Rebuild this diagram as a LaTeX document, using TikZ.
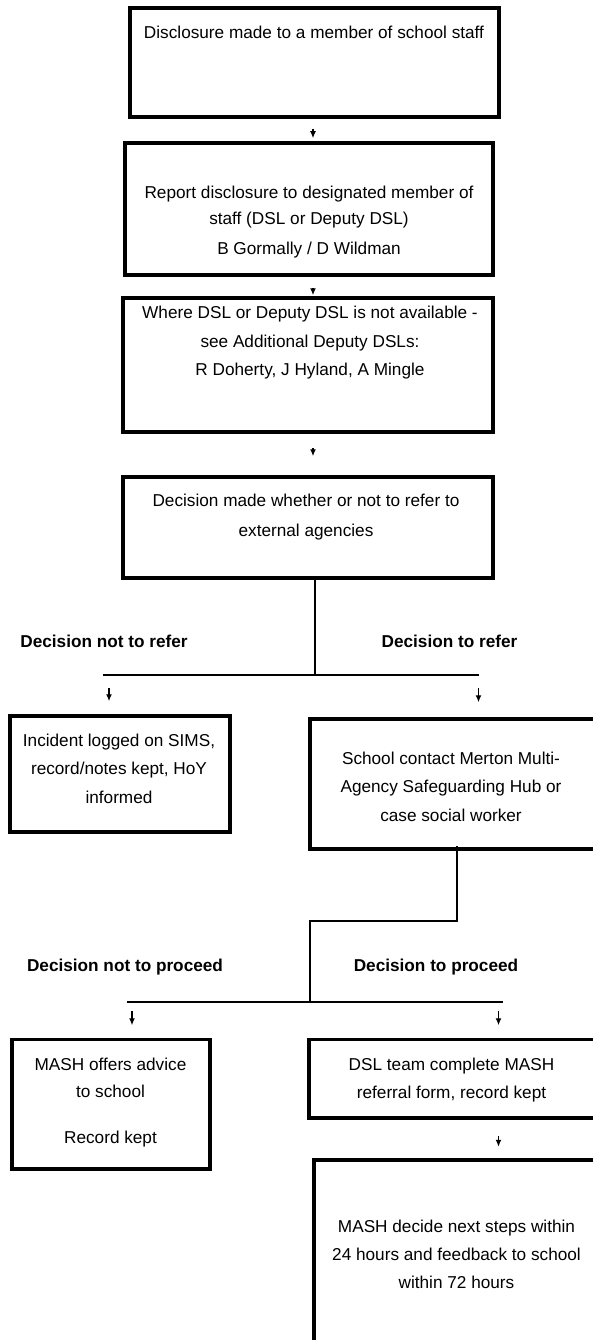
\documentclass[tikz,border=0pt]{standalone}
\usepackage{fontspec}
\setmainfont{Liberation Sans}
\usetikzlibrary{arrows.meta}

\begin{document}
\begin{tikzpicture}[x=1pt,y=-1pt,
  box/.style={draw, line width=3.5pt, inner sep=0pt},
  txt/.style={align=center, inner sep=0pt, font=\fontsize{17.2}{28.5}\selectfont},
  lbl/.style={inner sep=0pt, font=\fontsize{17.2}{20}\selectfont\bfseries},
  link/.style={line width=1.6pt},
  arr/.style={line width=1.3pt, -{Latex[length=7pt,width=6pt]}}]

\useasboundingbox (0,0) rectangle (593,1340);
\clip (0,0) rectangle (593,1340);

% Boxes
\node[box, minimum width=369pt, minimum height=109pt] (disclose) at (314.5,62.5) {};
\node[box, minimum width=368pt, minimum height=132pt] (report) at (309,209) {};
\node[box, minimum width=370pt, minimum height=134pt] (deputies) at (308,365) {};
\node[box, minimum width=370pt, minimum height=101pt] (decide) at (308,527.5) {};
\node[box, minimum width=220pt, minimum height=116pt] (logged) at (120,774) {};
\node[box, minimum width=310pt, minimum height=130pt] (contact) at (465,784) {};
\node[box, minimum width=198pt, minimum height=129.5pt] (advice) at (111,1104.25) {};
\node[box, minimum width=311pt, minimum height=78.5pt] (referral) at (464.5,1078.75) {};
\node[box, minimum width=306pt, minimum height=210pt] (mash) at (467,1265) {};

% Box texts
\node[txt, anchor=base] (discloseText) at (314,39) {Disclosure made to a member of school staff};
\node[txt, font=\fontsize{17.2}{26}\selectfont] (reportText) at (309,221.6)
  {Report disclosure to designated member of\\staff (DSL or Deputy DSL)\\[4pt]B Gormally / D Wildman};
\node[txt] (deputiesText) at (310,343)
  {Where DSL or Deputy DSL is not available -\\see Additional Deputy DSLs:\\R Doherty, J Hyland, A Mingle};
\node[txt, font=\fontsize{17.2}{30}\selectfont] (decideText) at (306,516.6)
  {Decision made whether or not to refer to\\external agencies};
\node[txt] (loggedText) at (119,768.6)
  {Incident logged on SIMS,\\record/notes kept, HoY\\informed};
\node[txt] (contactText) at (451,786.6)
  {School contact Merton Multi-\\Agency Safeguarding Hub or\\case social worker};
\node[txt, font=\fontsize{17.2}{27.5}\selectfont] (adviceText) at (110.5,1102.4)
  {MASH offers advice\\to school\\[18.5pt]Record kept};
\node[txt, font=\fontsize{17.2}{28}\selectfont] (referralText) at (451.5,1079.7)
  {DSL team complete MASH\\referral form, record kept};
\node[txt, font=\fontsize{17.2}{28}\selectfont] (mashText) at (456.5,1253.9)
  {MASH decide next steps within\\24 hours and feedback to school\\within 72 hours};

% Branch labels
\node[lbl, anchor=base] (notRefer) at (104,647) {Decision not to refer};
\node[lbl, anchor=base] (doRefer) at (449.5,647) {Decision to refer};
\node[lbl, anchor=base] (notProceed) at (125,971) {Decision not to proceed};
\node[lbl, anchor=base] (doProceed) at (436,971) {Decision to proceed};

% Top arrows
\coordinate (col) at (313,0);
\draw[arr, shorten <=10pt, shorten >=3pt] (col |- disclose.south) -- (col |- report.north);
\draw[arr, shorten <=11pt, shorten >=1pt] (col |- report.south) -- (col |- deputies.north);
\draw[arr, shorten <=14pt, shorten >=19pt] (col |- deputies.south) -- (col |- decide.north);

% First split
\coordinate (split1) at (315,675);
\coordinate (s1l) at (103,675);
\coordinate (s1r) at (478.5,675);
\coordinate (a1) at (109,675);
\draw[link] (split1 |- decide.south) -- (split1);
\draw[link] (s1l) -- (s1r);
\draw[arr, shorten <=13pt, shorten >=13pt] (a1) -- (a1 |- logged.north);
\draw[arr, shorten <=13pt, shorten >=15pt] (s1r) -- (s1r |- contact.north);

% Second split
\coordinate (c2) at (457,921);
\coordinate (split2) at (310,1002);
\coordinate (s2l) at (127,1002);
\coordinate (s2r) at (503,1002);
\coordinate (a2) at (132,1002);
\coordinate (a3) at (498.5,1002);
\draw[link, shorten <=-4.5pt] (c2 |- contact.south) -- (c2) -| (split2);
\draw[link] (s2l) -- (s2r);
\draw[arr, shorten <=9pt, shorten >=12.5pt] (a2) -- (a2 |- advice.north);
\draw[arr, shorten <=9pt, shorten >=12.5pt] (a3) -- (a3 |- referral.north);
\draw[arr, shorten <=16pt, shorten >=11.5pt] (a3 |- referral.south) -- (a3 |- mash.north);

\end{tikzpicture}
\end{document}
